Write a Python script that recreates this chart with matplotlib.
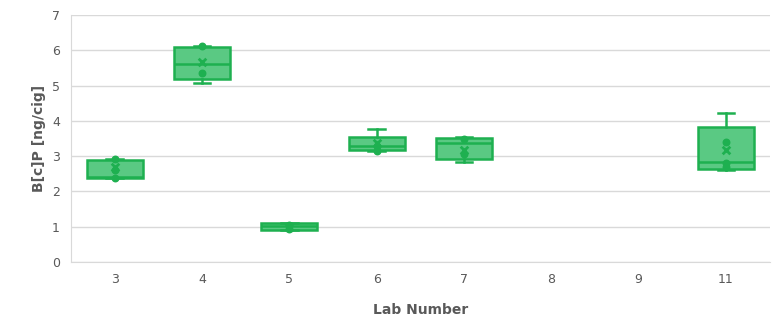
import matplotlib.pyplot as plt
import numpy as np

labs = ['3', '4', '5', '6', '7', '8', '9', '11']
# box stats (ng/cig); None for labs with no data
q1 = [2.39, 5.18, 0.90, 3.17, 2.92, None, None, 2.64]
med = [2.42, 5.60, 1.01, 3.30, 3.36, None, None, 2.84]
q3 = [2.88, 6.10, 1.11, 3.55, 3.52, None, None, 3.82]
wlo = [2.37, 5.06, 0.90, 3.14, 2.82, None, None, 2.62]
whi = [2.92, 6.12, 1.11, 3.77, 3.55, None, None, 4.21]
mean = [2.70, 5.67, 0.98, 3.36, 3.17, None, None, 3.17]
pts = [[2.37, 2.62, 2.92], [6.12, 5.36], [0.93, 1.05], [3.14, 3.30],
       [3.05, 3.50], [], [], [3.39, 2.80, 2.68]]

green = '#1eb050'
fill = '#5ac983'

fig, ax = plt.subplots(figsize=(7.79, 3.21), dpi=100)
fig.subplots_adjust(left=0.091, right=0.988, bottom=0.184, top=0.953)

stats = []
pos = []
for i in range(len(labs)):
    if q1[i] is None:
        continue
    stats.append(dict(med=med[i], q1=q1[i], q3=q3[i], whislo=wlo[i], whishi=whi[i], fliers=[]))
    pos.append(i)

ax.bxp(stats, positions=pos, widths=0.64, patch_artist=True, showfliers=False,
       boxprops=dict(facecolor=fill, edgecolor=green, linewidth=1.8),
       medianprops=dict(color=green, linewidth=1.8),
       whiskerprops=dict(color=green, linewidth=1.8),
       capprops=dict(color=green, linewidth=1.8), capwidths=0.19, zorder=3)

for i in range(len(labs)):
    if pts[i]:
        ax.scatter([i] * len(pts[i]), pts[i], s=22, color=green, zorder=4)
    if mean[i] is not None:
        ax.scatter([i], [mean[i]], marker='x', s=30, color=green, linewidths=2, zorder=4)

ax.set_xlim(-0.5, len(labs) - 0.5)
ax.set_ylim(0, 7)
ax.set_xticks(range(len(labs)))
ax.set_xticklabels(labs)
ax.set_yticks(range(8))
ax.yaxis.grid(True, color='#d9d9d9', linewidth=1)
ax.set_axisbelow(True)
ax.tick_params(length=0, labelsize=9, colors='#595959', pad=8)
for s in ['top', 'right']:
    ax.spines[s].set_visible(False)
ax.spines['left'].set_color('#d9d9d9')
ax.spines['bottom'].set_color('#d9d9d9')
ax.set_xlabel('Lab Number', fontsize=10, fontweight='bold', color='#595959', labelpad=12)
ax.set_ylabel('B[c]P [ng/cig]', fontsize=10, fontweight='bold', color='#595959', labelpad=4)

plt.savefig('out.png')
